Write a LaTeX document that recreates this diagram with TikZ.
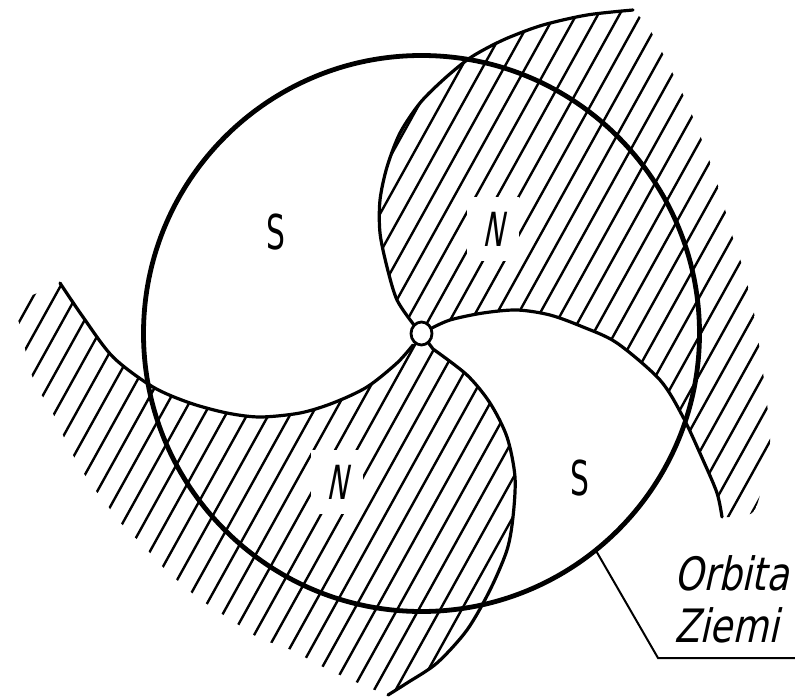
\documentclass[tikz,border=0pt]{standalone}
\usepackage{fontspec}
\usetikzlibrary{shapes.geometric}
\newfontfamily\letterfont{DejaVu Sans}[FakeStretch=0.8,FakeSlant=0.22]
\newfontfamily\sectorfont{DejaVu Sans}[FakeStretch=0.62]
\newfontfamily\sectorslant{DejaVu Sans}[FakeStretch=0.6,FakeSlant=0.2]

\begin{document}
\begin{tikzpicture}[x=1pt,y=-1pt,
  orbit/.style={line width=4.8pt},
  arm/.style={line width=3.2pt, line join=round, line cap=round},
  hatchline/.style={line width=2.4pt, line cap=round},
  leader/.style={line width=2pt, line join=miter},
  sunmark/.style={draw, ellipse, line width=2.8pt, fill=white,
    minimum width=21pt, minimum height=23pt, inner sep=0pt},
  sectorS/.style={font=\sectorfont\fontsize{48}{48}\selectfont, inner sep=0pt},
  sectorN/.style={font=\sectorslant\fontsize{47}{47}\selectfont, fill=white,
    inner xsep=15pt, inner ysep=15pt},
  caption/.style={font=\letterfont\fontsize{46}{50}\selectfont,
    anchor=base west, inner sep=0pt}
]

\useasboundingbox (0,0) rectangle (795,698);
\fill[white] (0,0) rectangle (795,698);

\coordinate (sun) at (421.5,333.5);
% outer ends of the four sector boundaries
\coordinate (tipN) at (633,10);
\coordinate (tipE) at (722,517);
\coordinate (tipS) at (388,695);
\coordinate (tipW) at (60,283);

% sector boundaries (spiral field lines); each piece continues the
% current path, so the sector outlines below run once around a region
\def\armN{-- plot[smooth] coordinates {(414,325) (397,300) (387,267) (380,233)
  (380,200) (387,167) (400,133) (420,103) (443,80) (467,60) (487,48) (510,37)
  (543,25) (587,15) (tipN)}}
\def\armE{-- plot[smooth] coordinates {(tipE) (717,493) (703,460) (683,417)
  (660,380) (617,343) (583,327) (550,315) (517,310) (483,313) (450,320)
  (430,329)}}
\def\armS{-- plot[smooth] coordinates {(433,349) (467,375) (490,403) (507,437)
  (515,477) (513,517) (507,550) (490,590) (467,630) (437,663) (407,683)
  (tipS)}}
\def\armW{-- plot[smooth] coordinates {(tipW) (83,317) (113,357) (153,387)
  (190,403) (227,413) (260,417) (300,413) (333,403) (367,387) (397,363)
  (413,345)}}

% outer limits of the hatching
\def\edgeNE{-- plot[smooth] coordinates {(tipN) (646,24) (657,42) (667,62)
  (677,82) (686,101) (695,122) (703,143) (711,165) (719,189) (726,213)
  (733,238) (741,262) (748,287) (754,313) (759,345) (764,380) (768,413)
  (770,448) (763,483) (752,513) (tipE)}}
\def\edgeSW{-- plot[smooth] coordinates {(tipS) (372,689) (358,683) (342,676)
  (325,668) (310,660) (295,652) (280,645) (262,640) (245,629) (228,618)
  (213,608) (198,598) (184,586) (170,574) (157,561) (143,545) (128,531)
  (115,516) (105,502) (92,486) (80,467) (68,446) (58,424) (48,404) (37,388)
  (28,363) (22,332) (15,305) (35,294) (48,289) (tipW)}}

% hatched N sectors
\begin{scope}
  \clip (sun) \armN \edgeNE \armE -- cycle
        (sun) \armS \edgeSW \armW -- cycle;
  \foreach \k in {-32,...,32}
    \draw[hatchline] ({400+21.5*\k},333) ++(119:470) -- ++(-61:940);
\end{scope}

% sector letters
\node[sectorN] (nUp) at (493,229) {N};
\node[sectorN] (nLow) at (337,482) {N};
\node[sectorS] (sUp) at (276,232) {S};
\node[sectorS] (sLow) at (580,478) {S};

% Earth's orbit and the sector boundaries
\draw[orbit] (sun) circle[radius=278];
\draw[arm] (sun) \armN;
\draw[arm] (tipE) \armE;
\draw[arm] (sun) \armS;
\draw[arm] (tipW) \armW;

% the Sun
\node[sunmark] (sunnode) at (sun) {};

% label with leader line
\path (sun) ++(51.2:278) coordinate (tap);
\coordinate (bend) at (658,658);
\coordinate (tail) at (795,658);
\draw[leader] (tap) -- (bend) -- (tail);
\node[caption] (orb) at (674,590) {Orbita};
\node[caption] (zie) at (674,642) {Ziemi};

\end{tikzpicture}
\end{document}
